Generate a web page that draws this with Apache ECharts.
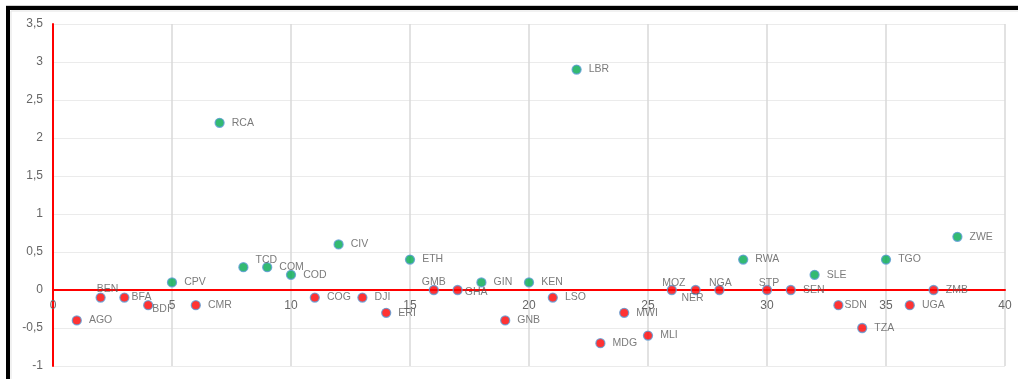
<!DOCTYPE html>
<html>
<head>
<meta charset="utf-8">
<script src="https://cdn.jsdelivr.net/npm/echarts@6/dist/echarts.min.js"></script>
<style>
  html, body { margin: 0; padding: 0; background: #fff; }
  #chart { width: 1018px; height: 379px; }
</style>
</head>
<body>
<div id="chart"></div>
<script>
// Country codes, their position on the horizontal axis and their value
const codes = ['AGO','BEN','BFA','BDI','CPV','CMR','RCA','TCD','COM','COD','COG','CIV','DJI',
  'ERI','ETH','GMB','GHA','GIN','GNB','KEN','LSO','LBR','MDG','MWI','MLI','MOZ','NER','NGA',
  'RWA','STP','SEN','SLE','SDN','TZA','TGO','UGA','ZMB','ZWE'];
const xValues = [1,2,3,4,5,6,7,8,9,10,11,12,13,14,15,16,17,18,19,20,21,22,23,24,25,26,27,28,
  29,30,31,32,33,34,35,36,37,38];
const yValues = [-0.4,-0.1,-0.1,-0.2,0.1,-0.2,2.2,0.3,0.3,0.2,-0.1,0.6,-0.1,
  -0.3,0.4,0,0,0.1,-0.4,0.1,-0.1,2.9,-0.7,-0.3,-0.6,0,0,0,
  0.4,0,0,0.2,-0.2,-0.5,0.4,-0.2,0,0.7];
const xTicks = { min: 0, max: 40, step: 5 };
const yTicks = { min: -1, max: 3.5, step: 0.5 };

// Labels that sit above / below / tucked against their marker
const labelPlacement = {
  BEN: { position: 'inside', offset: [7, -8] },
  GMB: { position: 'inside', offset: [0, -8] },
  MOZ: { position: 'inside', offset: [2, -7] },
  NGA: { position: 'inside', offset: [1, -7] },
  STP: { position: 'inside', offset: [2, -7] },
  NER: { position: 'inside', offset: [-3, 8] },
  TCD: { position: 'right', offset: [0, -7] },
  BDI: { position: 'right', offset: [-8, 4] },
  BFA: { position: 'right', offset: [-5, 0] },
  GHA: { position: 'right', offset: [-5, 2] },
  SDN: { position: 'right', offset: [-6, 0] }
};

const labelFont = { color: '#595959', fontSize: 10.5, fontFamily: 'Liberation Sans, Arial, sans-serif' };
const tickFont = { color: '#666666', fontSize: 12, fontFamily: 'Liberation Sans, Arial, sans-serif' };

function buildPoints(keep) {
  const pts = [];
  codes.forEach((c, i) => {
    if (!keep(yValues[i])) return;
    const p = { value: [xValues[i], yValues[i]], name: c };
    if (labelPlacement[c]) {
      p.label = Object.assign({ align: 'center', verticalAlign: 'middle' }, labelPlacement[c]);
      if (labelPlacement[c].position === 'right') { delete p.label.align; }
    }
    pts.push(p);
  });
  return pts;
}

const chart = echarts.init(document.getElementById('chart'), null, { renderer: 'canvas' });

const gridBox = { left: 53, right: 13, top: 24, bottom: 13 };
const plotHeight = 379 - gridBox.top - gridBox.bottom;
// distance from the bottom edge of the plot up to the y = 0 line
const zeroLift = plotHeight * (0 - yTicks.min) / (yTicks.max - yTicks.min);

const markerBase = {
  type: 'scatter',
  symbol: 'circle',
  symbolSize: 9,
  label: Object.assign({
    show: true,
    position: 'right',
    distance: 7,
    formatter: p => p.name
  }, labelFont),
  emphasis: { disabled: true }
};

chart.setOption({
  animation: false,
  backgroundColor: '#ffffff',
  grid: Object.assign({ containLabel: false, outerBoundsMode: 'none' }, gridBox),
  xAxis: {
    type: 'value',
    position: 'bottom',
    offset: -zeroLift,
    min: xTicks.min, max: xTicks.max, interval: xTicks.step,
    axisLine: { show: true, onZero: false, lineStyle: { color: '#ff0000', width: 2 } },
    axisTick: { show: false },
    axisLabel: Object.assign({ margin: 10 }, tickFont),
    splitLine: { show: true, lineStyle: { color: '#d9d9d9', width: 1.5 } }
  },
  yAxis: {
    type: 'value',
    min: yTicks.min, max: yTicks.max, interval: yTicks.step,
    axisLine: { show: true, onZero: false, lineStyle: { color: '#ff0000', width: 2 } },
    axisTick: { show: false },
    axisLabel: Object.assign({
      margin: 10,
      formatter: v => String(v).replace('.', ',')
    }, tickFont),
    splitLine: { show: true, lineStyle: { color: '#ebebeb', width: 1 } }
  },
  series: [
    Object.assign({}, markerBase, {
      name: 'positive',
      itemStyle: { color: '#00a94f', borderColor: '#5b9bd5', borderWidth: 1.3 },
      data: buildPoints(v => v > 0)
    }),
    Object.assign({}, markerBase, {
      name: 'non-positive',
      itemStyle: { color: '#ff0000', borderColor: '#5b9bd5', borderWidth: 1.3 },
      data: buildPoints(v => v <= 0)
    })
  ],
  graphic: [
    // frame of the chart area
    { type: 'rect', shape: { x: 11, y: 11, width: 1010, height: 372 }, style: { fill: 'none', stroke: '#e3e3e3', lineWidth: 1 }, silent: true },
    { type: 'rect', shape: { x: 6, y: 6, width: 1012, height: 4 }, style: { fill: '#000000' }, silent: true },
    { type: 'rect', shape: { x: 6, y: 6, width: 4, height: 373 }, style: { fill: '#000000' }, silent: true },
    { type: 'rect', shape: { x: 6, y: 5, width: 1012, height: 1 }, style: { fill: '#cfcfcf' }, silent: true }
  ]
});
</script>
</body>
</html>
